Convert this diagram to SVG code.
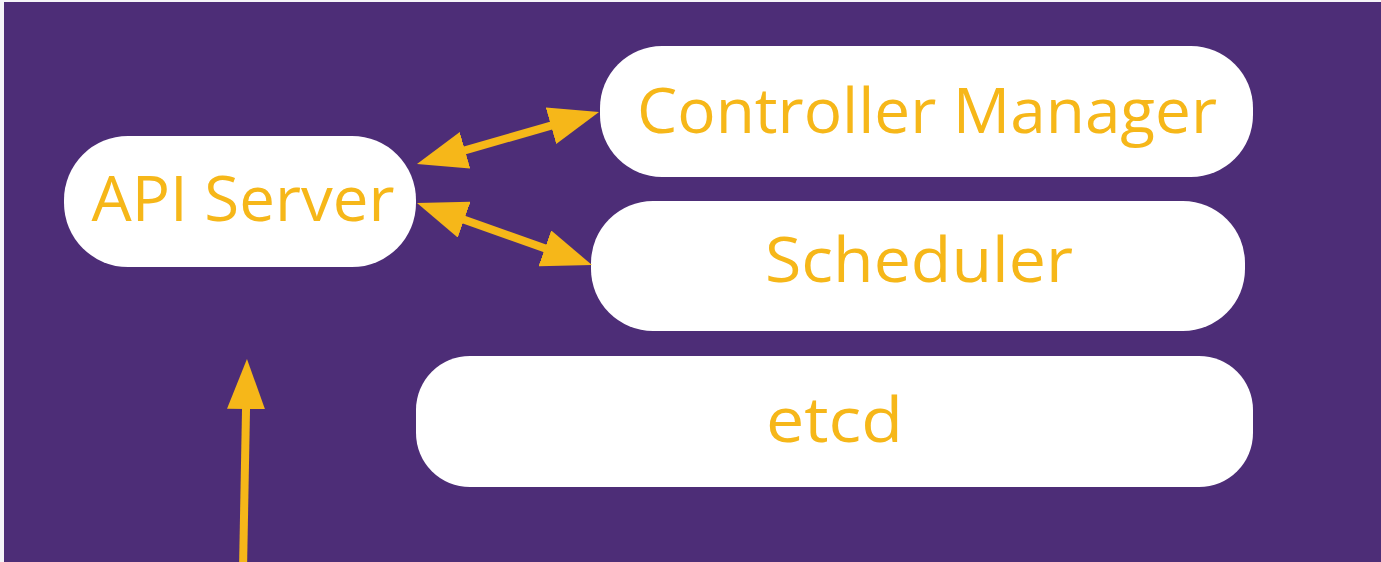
<svg xmlns="http://www.w3.org/2000/svg" width="1381" height="562" viewBox="0 0 1381 562">
<style>
.node{fill:#ffffff}
.lbl{fill:#F6B719;font-family:"Open Sans","Liberation Sans",sans-serif;font-size:62px;text-anchor:middle}
.conn{stroke:#F6B719;stroke-width:8;fill:none}
</style>
<defs>
<marker id="ah" markerUnits="userSpaceOnUse" markerWidth="50" markerHeight="38" refX="20" refY="19" orient="auto-start-reverse" viewBox="0 0 50 38">
<path d="M0,0 L50,19 L0,38 z" fill="#F6B719"/>
</marker>
</defs>
<rect x="0" y="0" width="1381" height="562" fill="#F5F4F8"/>
<rect x="4" y="2" width="1377" height="560" fill="#4D2D77"/>
<g id="api-server">
<rect class="node" x="64" y="136" width="352" height="131" rx="64" ry="64"/>
<text class="lbl" x="243" y="221" textLength="303" lengthAdjust="spacingAndGlyphs">API Server</text>
</g>
<g id="controller-manager">
<rect class="node" x="600" y="46" width="653" height="131" rx="62" ry="62"/>
<text class="lbl" x="927" y="133" textLength="580" lengthAdjust="spacingAndGlyphs">Controller Manager</text>
</g>
<g id="scheduler">
<rect class="node" x="591" y="201" width="654" height="130" rx="62" ry="62"/>
<text class="lbl" x="919" y="282" textLength="308" lengthAdjust="spacingAndGlyphs">Scheduler</text>
</g>
<g id="etcd">
<rect class="node" x="416" y="356" width="837" height="131" rx="54" ry="54"/>
<text class="lbl" x="834.5" y="442" textLength="137" lengthAdjust="spacingAndGlyphs">etcd</text>
</g>
<g id="connectors">
<line class="conn" x1="445.8" y1="155.8" x2="570.2" y2="120.2" marker-start="url(#ah)" marker-end="url(#ah)"/>
<line class="conn" x1="445.3" y1="213" x2="563.7" y2="255" marker-start="url(#ah)" marker-end="url(#ah)"/>
<line class="conn" x1="243" y1="570" x2="246.4" y2="389" marker-end="url(#ah)"/>
</g>
</svg>
